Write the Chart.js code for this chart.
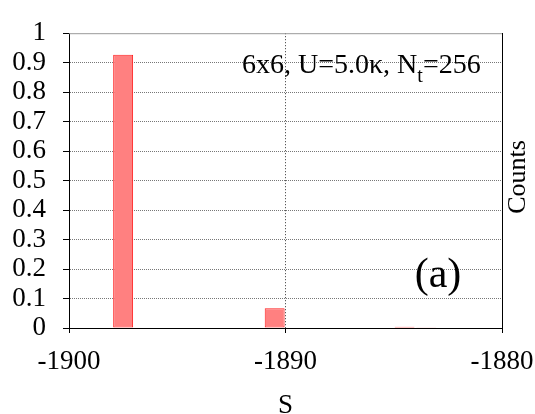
<!DOCTYPE html>
<html>
<head>
<meta charset="utf-8">
<script src="https://cdn.jsdelivr.net/npm/chart.js@4/dist/chart.umd.min.js"></script>
<style>
  html, body { margin: 0; padding: 0; background: #fff; }
  #wrap { width: 535px; height: 414px; }
</style>
</head>
<body>
<div id="wrap"><canvas id="c" width="535" height="414"></canvas></div>
<script>
// Histogram of S: bin centres and normalised counts
const S_BIN_CENTERS = [-1897.5, -1890.5, -1884.5, -1883.5];
const COUNTS = [0.927, 0.067, 0.004, 0.001];

// Axis ticks and labels
const X_TICKS = [-1900, -1890, -1880];
const Y_TICKS = [0, 0.1, 0.2, 0.3, 0.4, 0.5, 0.6, 0.7, 0.8, 0.9, 1];
const X_TITLE = 'S';
const Y_TITLE = 'Counts';
const INFO_MAIN = '6x6, U=5.0\u03BA, N';
const INFO_SUB = 't';
const INFO_TAIL = '=256';
const PANEL_LABEL = '(a)';

const SERIF = '"Liberation Serif", "Times New Roman", serif';

const textPlugin = {
  id: 'panelText',
  afterDraw(chart) {
    const ctx = chart.ctx;
    const area = chart.chartArea;
    ctx.save();
    // top frame line
    ctx.strokeStyle = '#999';
    ctx.lineWidth = 1;
    ctx.beginPath();
    ctx.moveTo(area.left, area.top + 0.5);
    ctx.lineTo(area.right, area.top + 0.5);
    ctx.stroke();

    ctx.fillStyle = '#000';
    ctx.textBaseline = 'alphabetic';
    ctx.textAlign = 'left';
    // parameter line with subscript
    let x = 242, y = 73;
    ctx.font = '28px ' + SERIF;
    ctx.fillText(INFO_MAIN, x, y);
    x += ctx.measureText(INFO_MAIN).width;
    ctx.font = '20px ' + SERIF;
    ctx.fillText(INFO_SUB, x, y + 9);
    x += ctx.measureText(INFO_SUB).width;
    ctx.font = '28px ' + SERIF;
    ctx.fillText(INFO_TAIL, x, y);

    // panel label
    ctx.font = '42px ' + SERIF;
    ctx.textAlign = 'center';
    ctx.fillText(PANEL_LABEL, 438, 287);

    // x-axis title under the middle of the plot
    ctx.font = '27px ' + SERIF;
    ctx.fillText(X_TITLE, (area.left + area.right) / 2, 413);

    // right-hand axis title, reading bottom to top
    ctx.font = '26px ' + SERIF;
    ctx.translate(518, 177);
    ctx.rotate(-Math.PI / 2);
    ctx.textBaseline = 'middle';
    ctx.fillText(Y_TITLE, 0, 0);
    ctx.restore();
  }
};

new Chart(document.getElementById('c'), {
  type: 'bar',
  data: {
    datasets: [{
      data: S_BIN_CENTERS.map((s, i) => ({ x: s, y: COUNTS[i] })),
      backgroundColor: '#ff8080',
      borderColor: '#ff2020',
      borderWidth: 1,
      borderSkipped: false,
      barPercentage: 0.92,
      categoryPercentage: 1.0,
      yAxisID: 'y'
    }]
  },
  options: {
    responsive: false,
    devicePixelRatio: 1,
    animation: false,
    layout: { padding: { top: 19, left: 0, right: 0, bottom: 0 } },
    plugins: { legend: { display: false }, tooltip: { enabled: false } },
    scales: {
      x: {
        type: 'linear',
        min: -1900,
        max: -1880,
        offset: false,
        afterBuildTicks: s => { s.ticks = X_TICKS.map(v => ({ value: v })); },
        afterFit: s => { s.height = 86; s.paddingLeft = 0; s.paddingRight = 0; },
        ticks: {
          color: '#000',
          font: { family: SERIF, size: 27 },
          padding: 13,
          maxRotation: 0,
          autoSkip: false,
          callback: v => String(v)
        },
        grid: {
          offset: false,
          color: c => (c.tick && c.tick.value === -1890) ? '#333' : 'rgba(0,0,0,0)',
          lineWidth: 1,
          tickLength: 5,
          tickColor: '#000',
          tickBorderDash: []
        },
        border: { display: true, color: '#000', width: 1, dash: [1, 2] }
      },
      y: {
        position: 'left',
        min: 0,
        max: 1,
        afterBuildTicks: s => { s.ticks = Y_TICKS.map(v => ({ value: v })); },
        afterFit: s => { s.width = 69; },
        ticks: {
          color: '#000',
          font: { family: SERIF, size: 27 },
          padding: 17,
          autoSkip: false,
          callback: v => String(+(+v).toFixed(1))
        },
        grid: {
          color: c => (c.tick && (c.tick.value === 0 || c.tick.value === 1)) ? 'rgba(0,0,0,0)' : '#777',
          lineWidth: 1,
          tickLength: 6,
          tickColor: '#000',
          tickBorderDash: []
        },
        border: { display: true, color: '#000', width: 1, dash: [1, 1] }
      },
      y2: {
        position: 'right',
        min: 0,
        max: 1,
        afterFit: s => { s.width = 33; },
        ticks: { display: false },
        grid: { drawOnChartArea: false, drawTicks: false },
        border: { display: true, color: '#000', width: 1 }
      }
    }
  },
  plugins: [textPlugin]
});
</script>
</body>
</html>
